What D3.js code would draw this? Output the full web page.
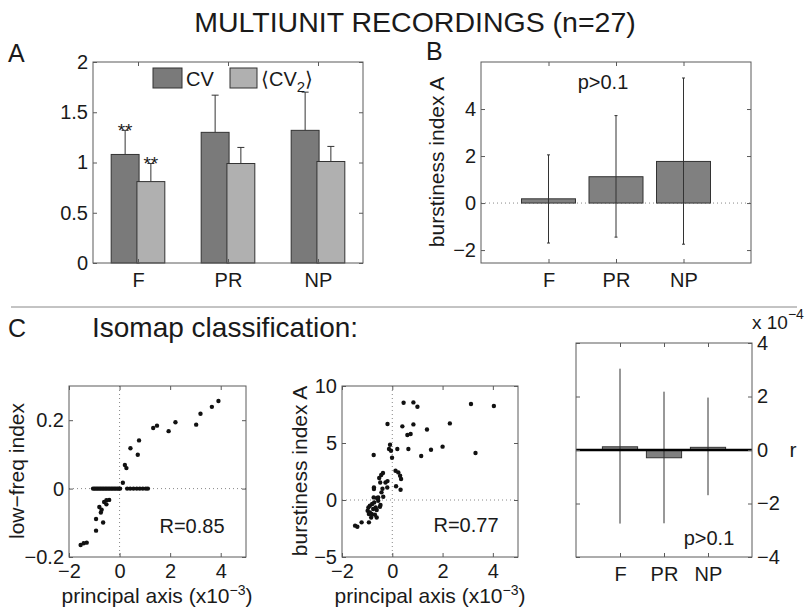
<!DOCTYPE html>
<html><head><meta charset="utf-8">
<script src="https://cdn.jsdelivr.net/npm/d3@7"></script>
<style>
body{margin:0;background:#fff}
text{font-family:"Liberation Sans",Arial,Helvetica,sans-serif;fill:#1a1a1a}
</style></head>
<body><svg id="c" width="806" height="614"></svg>
<script>
// ---------------- data ----------------
const categories = ["F", "PR", "NP"];
// panel A
const cvMean  = [1.08, 1.30, 1.32];
const cvTop   = [1.32, 1.67, 1.70];
const cv2Mean = [0.81, 0.99, 1.01];
const cv2Top  = [0.99, 1.15, 1.16];
const aTicks  = [0, 0.5, 1, 1.5, 2];
// panel B
const burstMean = [0.18, 1.12, 1.77];
const burstLo   = [-1.70, -1.45, -1.75];
const burstHi   = [2.05, 3.72, 5.32];
const bTicks    = [-2, 0, 2, 4];
// panel C, scatter 1 (principal axis x1e-3 vs low-freq index)
const lfX = [-1.05,-0.99,-0.93,-0.87,-0.81,-0.75,-0.69,-0.63,-0.57,-0.51,-0.45,-0.39,-0.33,-0.27,-0.21,-0.15,-0.09,-0.03,0.02,0.3,0.42,0.55,0.68,0.8,0.92,1.04,1.12,
  -0.41,-0.52,-0.61,-0.52,-0.80,-0.71,-0.74,-0.93,-0.65,-0.93,-1.54,-1.42,-1.30,
  0.13,0.21,0.27,0.43,0.72,0.77,1.33,1.48,1.94,2.21,3.03,3.20,3.65,3.91];
const lfY = [0,0,0,0,0,0,0,0,0,0,0,0,0,0,0,0,0,0,0,0,0,0,0,0,0,0,0,
  -0.033,-0.034,-0.039,-0.046,-0.054,-0.062,-0.070,-0.089,-0.099,-0.123,-0.165,-0.160,-0.158,
  0.017,0.069,0.060,0.118,0.099,0.141,0.177,0.184,0.168,0.194,0.187,0.219,0.239,0.256];
// panel C, scatter 2 (principal axis vs burstiness index A)
const bsX = [0.45,0.84,1.00,3.13,4.04,-0.19,0.40,0.84,1.38,2.29,0.60,0.73,-0.09,-0.13,-0.05,0.20,0.64,1.54,2.00,-0.74,1.15,-0.01,3.31,
  0.13,0.24,0.31,0.35,-0.37,-0.44,-0.52,-0.48,-0.27,-0.19,-0.20,0.15,0.33,-0.39,-0.73,-0.61,-0.56,
  -0.72,-0.80,-0.89,-0.95,-0.98,-0.89,-0.82,-0.69,-0.62,-0.49,-0.66,-0.76,-0.93,-0.84,-0.62,-0.47,-0.43,-0.36,-0.74,-0.56,-0.93,-1.22,-1.48,-1.39,-0.73];
const bsY = [8.53,8.56,8.18,8.42,8.24,6.67,6.46,6.63,6.19,6.72,5.70,5.79,4.85,4.47,4.32,4.47,4.47,4.41,4.68,3.95,3.86,3.71,4.12,
  2.57,2.42,2.13,1.84,2.37,2.19,1.93,1.54,1.54,1.66,1.10,1.20,0.90,0.99,1.10,0.17,-0.06,
  -0.21,-0.35,-0.50,-0.65,-0.94,-1.09,-1.23,-1.29,-0.88,-0.59,-0.65,-0.79,-1.23,-1.53,-1.53,-0.44,0.67,0.29,0.23,0.23,-1.96,-1.96,-2.25,-2.34,0.96];
const sxTicks = [-2, 0, 2, 4];
const s1yTicks = [-0.2, 0, 0.2];
const s2yTicks = [-5, 0, 5, 10];
// panel C, r bars (x1e-4)
const rMean = [0.12, -0.29, 0.10];
const rLo   = [-2.75, -2.74, -1.69];
const rHi   = [3.04, 2.18, 1.96];
const rTicks = [-4, -2, 0, 2, 4];

// ---------------- helpers ----------------
const AX = "#5a5a5a", TXT = "#1a1a1a";
const FONT = '"Liberation Sans",Arial,Helvetica,sans-serif';
const svg = d3.select("#c");
const TICKFS = 20;
const fmt = v => (v < 0 ? "\u2212" + Math.abs(v) : String(v));

function frame(g, x, y, o) {
  const [x0, x1] = x.range(), [y0, y1] = y.range();
  const style = sel => {
    sel.select(".domain").remove();
    sel.selectAll(".tick line").attr("stroke", AX);
    sel.selectAll("text").attr("font-size", TICKFS).attr("font-family", FONT).attr("fill", TXT);
    sel.attr("font-size", null).attr("font-family", null);
  };
  g.append("g").attr("transform", `translate(${x0},0)`)
    .call(d3.axisLeft(y).tickValues(o.yt).tickFormat(o.yRight ? () => "" : (o.yfmt || fmt)).tickSize(-4).tickPadding(o.yPad || 6)).call(style);
  g.append("g").attr("transform", `translate(${x1},0)`)
    .call(d3.axisRight(y).tickValues(o.yt).tickFormat(o.yRight ? (o.yfmt || fmt) : () => "").tickSize(-4).tickPadding(o.yPad || 6)).call(style);
  g.append("g").attr("transform", `translate(0,${y0})`)
    .call(d3.axisBottom(x).tickValues(o.xt).tickFormat(o.xfmt || fmt).tickSize(-4).tickPadding(o.xPad || 8)).call(style);
  g.append("g").attr("transform", `translate(0,${y1})`)
    .call(d3.axisTop(x).tickValues(o.xt).tickFormat(() => "").tickSize(-4)).call(style);
  g.append("rect").attr("x", x0).attr("y", y1).attr("width", x1 - x0).attr("height", y0 - y1)
    .attr("fill", "none").attr("stroke", AX).attr("stroke-width", 1);
}
function label(x, y, txt, fs, anchor, rot) {
  return svg.append("text").attr("font-size", fs).attr("text-anchor", anchor || "middle")
    .attr("transform", `translate(${x},${y})` + (rot ? " rotate(-90)" : "")).text(txt);
}
function dotted(g, x1, y1, x2, y2) {
  g.append("line").attr("x1", x1).attr("y1", y1).attr("x2", x2).attr("y2", y2)
    .attr("stroke", "#888").attr("stroke-width", 1).attr("stroke-dasharray", "1,3");
}

// ---------------- titles / separators ----------------
label(415, 32, "MULTIUNIT RECORDINGS (n=27)", 28.5);
label(8, 62, "A", 25, "start");
label(426, 60, "B", 25, "start");
label(8, 337, "C", 25, "start");
label(92, 337, "Isomap classification:", 28, "start");
svg.append("line").attr("x1", 11).attr("x2", 797).attr("y1", 307).attr("y2", 307).attr("stroke", "#888").attr("stroke-width", 1);

// ---------------- panel A ----------------
{
  const g = svg.append("g");
  const x = d3.scaleLinear().domain([0.5, 3.5]).range([93, 363]);
  const y = d3.scaleLinear().domain([0, 2]).range([263, 62]);
  const bw = 0.31, off = 0.143;
  const series = [
    {m: cvMean, t: cvTop, c: "#7a7a7a", d: -off},
    {m: cv2Mean, t: cv2Top, c: "#b0b0b0", d: off}
  ];
  series.forEach(s => {
    g.selectAll(null).data(categories).enter().append("path")
      .attr("d", (c, i) => {
        const cx = x(i + 1 + s.d), cw = 3.5;
        return `M${cx},${y(s.m[i])}V${y(s.t[i])}M${cx - cw},${y(s.t[i])}H${cx + cw}`;
      }).attr("stroke", "#333").attr("stroke-width", 1).attr("fill", "none");
  });
  series.forEach(s => {
    g.selectAll(null).data(categories).enter().append("rect")
      .attr("x", (c, i) => x(i + 1 + s.d - bw / 2)).attr("width", x(bw) - x(0))
      .attr("y", (c, i) => y(s.m[i])).attr("height", (c, i) => y(0) - y(s.m[i]))
      .attr("fill", s.c).attr("stroke", "#333").attr("stroke-width", 1);
  });
  // significance stars
  g.append("text").attr("x", x(1 - off)).attr("y", y(cvTop[0]) + 7).attr("text-anchor", "middle").attr("font-size", 19).text("**");
  g.append("text").attr("x", x(1 + off)).attr("y", y(cv2Top[0]) + 6).attr("text-anchor", "middle").attr("font-size", 19).text("**");
  frame(g, x, y, {xt: [1, 2, 3], xfmt: (d) => categories[d - 1], yt: aTicks, yfmt: d3.format(""), xPad: 10, yPad: 5});
  // legend
  g.append("rect").attr("x", 153).attr("y", 68).attr("width", 29).attr("height", 20).attr("fill", "#7a7a7a").attr("stroke", "#333");
  g.append("text").attr("x", 186).attr("y", 86).attr("font-size", 20).text("CV");
  g.append("rect").attr("x", 230).attr("y", 68).attr("width", 27).attr("height", 20).attr("fill", "#b0b0b0").attr("stroke", "#333");
  const lt = g.append("text").attr("x", 261).attr("y", 86).attr("font-size", 20);
  lt.append("tspan").text("\u27E8CV");
  lt.append("tspan").attr("dy", 6).attr("font-size", 15).text("2");
  lt.append("tspan").attr("dy", -6).text("\u27E9");
}

// ---------------- panel B ----------------
{
  const g = svg.append("g");
  const x = d3.scaleLinear().domain([0, 4]).range([481, 751]);
  const y = d3.scaleLinear().domain([-2.55, 6]).range([263, 62]);
  dotted(g, 481, y(0), 751, y(0));
  const bw = 0.8;
  g.selectAll(null).data(categories).enter().append("rect")
    .attr("x", (c, i) => x(i + 1 - bw / 2)).attr("width", x(bw) - x(0))
    .attr("y", (c, i) => y(Math.max(0, burstMean[i]))).attr("height", (c, i) => Math.abs(y(0) - y(burstMean[i])))
    .attr("fill", "#808080").attr("stroke", "#333").attr("stroke-width", 1);
  g.selectAll(null).data(categories).enter().append("path")
    .attr("d", (c, i) => `M${x(i + 1)},${y(burstLo[i])}V${y(burstHi[i])}M${x(i + 1) - 1.5},${y(burstLo[i])}h3M${x(i + 1) - 1.5},${y(burstHi[i])}h3`)
    .attr("stroke", "#333").attr("stroke-width", 1).attr("fill", "none");
  frame(g, x, y, {xt: [1, 2, 3], xfmt: (d) => categories[d - 1], yt: bTicks, xPad: 10, yPad: 5});
  g.append("text").attr("x", 603).attr("y", 89).attr("text-anchor", "middle").attr("font-size", 20).text("p>0.1");
  label(444, 162, "burstiness index A", 21, "middle", true);
}

// ---------------- panel C scatter 1 ----------------
{
  const g = svg.append("g");
  const x = d3.scaleLinear().domain([-2, 5]).range([69, 246]);
  const y = d3.scaleLinear().domain([-0.2, 0.3]).range([557, 386]);
  dotted(g, x(0), 386, x(0), 557);
  dotted(g, 69, y(0), 246, y(0));
  g.selectAll(null).data(lfX).enter().append("circle")
    .attr("cx", d => x(d)).attr("cy", (d, i) => y(lfY[i])).attr("r", 2.2).attr("fill", "#111");
  frame(g, x, y, {xt: sxTicks, yt: s1yTicks, yfmt: fmt, xPad: 7, yPad: 5});
  g.append("text").attr("x", 192).attr("y", 533).attr("text-anchor", "middle").attr("font-size", 20).text("R=0.85");
  label(24, 471, "low\u2212freq index", 21, "middle", true);
  const t = svg.append("text").attr("x", 157).attr("y", 603).attr("text-anchor", "middle").attr("font-size", 21);
  t.append("tspan").text("principal axis (x10");
  t.append("tspan").attr("dy", -8).attr("font-size", 14).text("\u22123");
  t.append("tspan").attr("dy", 8).text(")");
}

// ---------------- panel C scatter 2 ----------------
{
  const g = svg.append("g");
  const x = d3.scaleLinear().domain([-2, 5]).range([342, 518]);
  const y = d3.scaleLinear().domain([-5, 10]).range([557, 386]);
  dotted(g, x(0), 386, x(0), 557);
  dotted(g, 342, y(0), 518, y(0));
  g.selectAll(null).data(bsX).enter().append("circle")
    .attr("cx", d => x(d)).attr("cy", (d, i) => y(bsY[i])).attr("r", 2.2).attr("fill", "#111");
  frame(g, x, y, {xt: sxTicks, yt: s2yTicks, yfmt: fmt, xPad: 7, yPad: 5});
  g.append("text").attr("x", 466).attr("y", 532).attr("text-anchor", "middle").attr("font-size", 20).text("R=0.77");
  label(307, 471, "burstiness index A", 21, "middle", true);
  const t = svg.append("text").attr("x", 430).attr("y", 603).attr("text-anchor", "middle").attr("font-size", 21);
  t.append("tspan").text("principal axis (x10");
  t.append("tspan").attr("dy", -8).attr("font-size", 14).text("\u22123");
  t.append("tspan").attr("dy", 8).text(")");
}

// ---------------- panel C r bars ----------------
{
  const g = svg.append("g");
  const x = d3.scaleLinear().domain([0, 4]).range([576, 752]);
  const y = d3.scaleLinear().domain([-4, 4]).range([557, 343]);
  const bw = 0.8;
  g.selectAll(null).data(categories).enter().append("rect")
    .attr("x", (c, i) => x(i + 1 - bw / 2)).attr("width", x(bw) - x(0))
    .attr("y", (c, i) => y(Math.max(0, rMean[i]))).attr("height", (c, i) => Math.abs(y(0) - y(rMean[i])))
    .attr("fill", "#808080").attr("stroke", "#333").attr("stroke-width", 1);
  g.selectAll(null).data(categories).enter().append("line")
    .attr("x1", (c, i) => x(i + 1)).attr("x2", (c, i) => x(i + 1))
    .attr("y1", (c, i) => y(rLo[i])).attr("y2", (c, i) => y(rHi[i]))
    .attr("stroke", "#333").attr("stroke-width", 1);
  g.append("line").attr("x1", 576).attr("x2", 752).attr("y1", y(0)).attr("y2", y(0)).attr("stroke", "#000").attr("stroke-width", 2.5);
  frame(g, x, y, {xt: [1, 2, 3], xfmt: (d) => categories[d - 1], yt: rTicks, yRight: true, yfmt: fmt, xPad: 10, yPad: 5});
  g.append("text").attr("x", 709).attr("y", 545).attr("text-anchor", "middle").attr("font-size", 20).text("p>0.1");
  const e = svg.append("text").attr("x", 752).attr("y", 329).attr("font-size", 19);
  e.append("tspan").text("x 10");
  e.append("tspan").attr("dy", -10).attr("font-size", 14).text("\u22124");
  label(793, 457, "r", 21, "middle");
}
</script></body></html>
